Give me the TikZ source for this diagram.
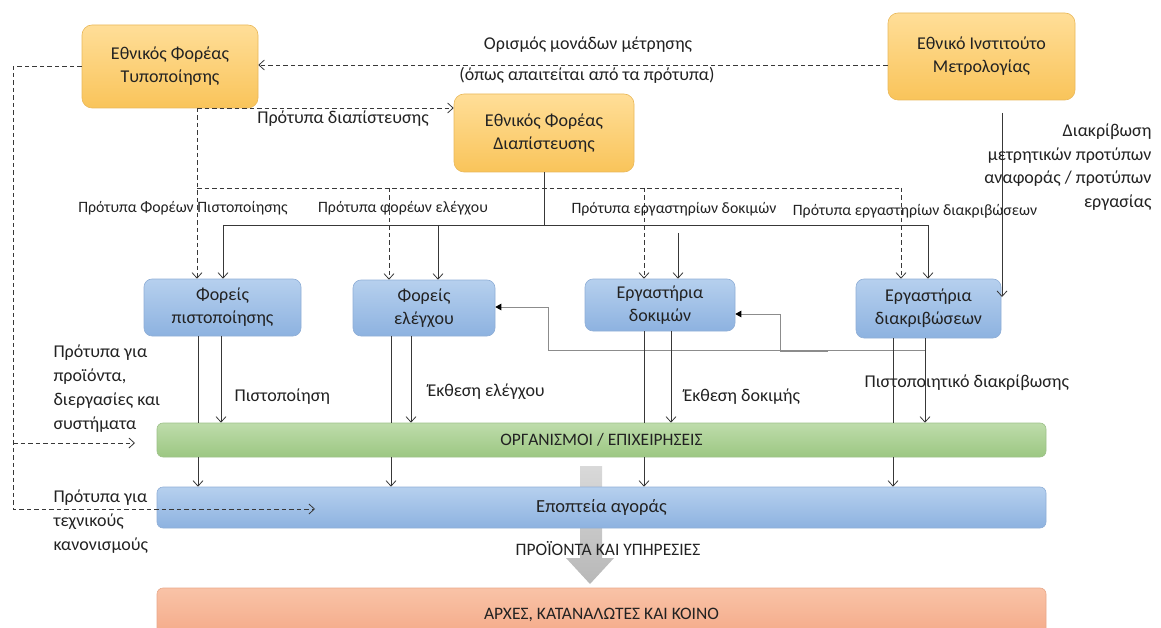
\documentclass[tikz,border=0pt]{standalone}
\usepackage{fontspec}
\setmainfont{Carlito}
\usetikzlibrary{arrows.meta}
\definecolor{orT}{HTML}{FFDE98}
\definecolor{orB}{HTML}{F9C45A}
\definecolor{orD}{HTML}{E9B85A}
\definecolor{blT}{HTML}{B6D0EE}
\definecolor{blB}{HTML}{8DB2E0}
\definecolor{blD}{HTML}{8FAED6}
\definecolor{grT}{HTML}{BEDCAB}
\definecolor{grB}{HTML}{9CC782}
\definecolor{grD}{HTML}{9DC189}
\definecolor{saT}{HTML}{F9C3A7}
\definecolor{saB}{HTML}{F4A886}
\definecolor{saD}{HTML}{E8A88A}
\definecolor{txt}{HTML}{222222}
\definecolor{ln}{HTML}{383838}
\begin{document}
\begin{tikzpicture}[x=1pt,y=-1pt,
  every node/.style={text=txt},
  bigfont/.style={font=\fontsize{18}{23}\selectfont},
  smallfont/.style={font=\fontsize{15.8}{18}\selectfont},
  orbox/.style={rectangle, rounded corners=10pt, draw=orD, line width=0.6pt,
    top color=orT, bottom color=orB, align=center, inner sep=0pt, bigfont},
  blbox/.style={rectangle, rounded corners=8pt, draw=blD, line width=0.6pt,
    top color=blT, bottom color=blB, align=center, inner sep=0pt, bigfont},
  barbox/.style={rectangle, rounded corners=6pt, line width=0.6pt,
    minimum width=889pt, inner sep=0pt, font=\fontsize{17.5}{20}\selectfont},
  plain/.style={draw=ln, line width=0.8pt},
  conn/.style={plain, -{Straight Barb[length=5.5pt,width=10pt]}},
  dline/.style={draw=ln, line width=0.8pt, dash pattern=on 4.5pt off 3pt},
  dconn/.style={dline, -{Straight Barb[length=5.5pt,width=10pt]}},
  fb/.style={draw=black!45, line width=1pt, -{Triangle[length=6pt,width=6.5pt,color=black]}},
  lbl/.style={bigfont},
  slbl/.style={smallfont}
]
\useasboundingbox (0,0) rectangle (1161,628);

% top boxes
\node[orbox, minimum width=176pt, minimum height=83pt] (eft) at (170,66.5) {Εθνικός Φορέας\\Τυποποίησης};
\node[orbox, minimum width=180pt, minimum height=78pt] (efd) at (544,133) {Εθνικός Φορέας\\Διαπίστευσης};
\node[orbox, minimum width=187pt, minimum height=87pt] (eim) at (981.5,56.5) {Εθνικό Ινστιτούτο\\Μετρολογίας};

% middle boxes
\node[blbox, minimum width=157pt, minimum height=57pt] (fp) at (222.5,307.5) {Φορείς\\πιστοποίησης};
\node[blbox, minimum width=142pt, minimum height=56pt] (fe) at (424,308) {Φορείς\\ελέγχου};
\node[blbox, minimum width=150pt, minimum height=52pt] (ed) at (660,305) {Εργαστήρια\\δοκιμών};
\node[blbox, minimum width=145pt, minimum height=59pt] (edk) at (928.5,308.5) {Εργαστήρια\\διακριβώσεων};

% big grey arrow (behind bars)
\shade[top color=black!15, bottom color=black!28]
  (580,466) -- (602,466) -- (602,558) -- (614,558) -- (590,584) -- (566,558) -- (580,558) -- cycle;

% bars
\node[barbox, draw=grD, top color=grT, bottom color=grB, minimum height=34pt] (org) at (601.5,440) {ΟΡΓΑΝΙΣΜΟΙ / ΕΠΙΧΕΙΡΗΣΕΙΣ};
\node[barbox, draw=blD, top color=blT, bottom color=blB, minimum height=41pt, font=\fontsize{18.5}{20}\selectfont] (epo) at (601.5,507.5) {Εποπτεία αγοράς};
\node[barbox, draw=saD, top color=saT, bottom color=saB, minimum height=52pt, text depth=0pt] (arx) at (601.5,614) {ΑΡΧΕΣ, ΚΑΤΑΝΑΛΩΤΕΣ ΚΑΙ ΚΟΙΝΟ};

\node[font=\fontsize{17.5}{20}\selectfont] (prod) at (608,549) {ΠΡΟΪΟΝΤΑ ΚΑΙ ΥΠΗΡΕΣΙΕΣ};

% dashed: ΕΙΜ -> ΕΦΤ
\draw[dconn] (eim.west |- 0,65) -- (eft.east |- 0,65);
\node[lbl] (l1) at (588,45) {Ορισμός μονάδων μέτρησης};
\node[lbl] (l2) at (587,75) {(όπως απαιτείται από τα πρότυπα)};

% dashed: ΕΦΤ left loop
\coordinate (lt) at (13,66.5);
\coordinate (lb) at (13,509);
\coordinate (lm) at (13,443);
\coordinate (tk) at (315,509);
\coordinate (pp) at (135,443);
\draw[dconn] (eft.west) -- (lt) -- (lb) -- (tk);
\draw[dconn] (lm) -- (pp);

% dashed: ΕΦΤ -> ΕΦΔ and standards
\coordinate (d0) at (197,108);
\coordinate (d1) at (197,188);
\coordinate (d2) at (389,188);
\coordinate (d3) at (644,188);
\coordinate (d4) at (901,188);
\draw[dconn] (d0) -- (d0 -| efd.west);
\draw[dconn] (d0) -- (d0 |- fp.north);
\draw[dline] (d1) -- (d4);
\draw[dconn] (d2) -- (d2 |- fe.north);
\draw[dconn] (d3) -- (d3 |- ed.north);
\draw[dconn] (d4) -- (d4 |- edk.north);
\node[lbl] (l3) at (343,119) {Πρότυπα διαπίστευσης};

% solid: ΕΦΔ -> bodies
\coordinate (s0) at (544,225);
\coordinate (s1) at (223,225);
\coordinate (s2) at (438,225);
\coordinate (s4) at (928,225);
\coordinate (s3) at (678,233);
\draw[plain] (efd.south) -- (s0);
\draw[plain] (s1) -- (s4);
\draw[conn] (s1) -- (s1 |- fp.north);
\draw[conn] (s2) -- (s2 |- fe.north);
\draw[conn] (s3) -- (s3 |- ed.north);
\draw[conn] (s4) -- (s4 |- edk.north);

\node[slbl] (l4) at (183,208) {Πρότυπα Φορέων Πιστοποίησης};
\node[slbl] (l5) at (403,208) {Πρότυπα φορέων ελέγχου};
\node[slbl] (l6) at (674,209) {Πρότυπα εργαστηρίων δοκιμών};
\node[slbl] (l7) at (915,211) {Πρότυπα εργαστηρίων διακριβώσεων};

% ΕΙΜ -> εργαστήρια διακριβώσεων
\coordinate (m0) at (1002,113);
\coordinate (m1) at (1002,297);
\draw[conn] (m0) -- (m1);
\node[lbl, align=right, anchor=east, font=\fontsize{18}{23.5}\selectfont] (l8) at (1155,167) {Διακρίβωση\\μετρητικών προτύπων\\αναφοράς / προτύπων\\εργασίας};

% feedback lines
\coordinate (f0) at (926,350);
\coordinate (f1) at (548,350);
\coordinate (f2) at (548,307);
\coordinate (g0) at (828,351);
\coordinate (g1) at (780,351);
\coordinate (g2) at (780,314);
\draw[fb] (f0) -- (f1) -- (f2) -- (f2 -| fe.east);
\draw[fb] (g0) -- (g1) -- (g2) -- (g2 -| ed.east);

% bodies -> organisations -> market surveillance
\foreach \b/\p/\a in {fp/198/221, fe/391/411, ed/644/671, edk/893/925}{
  \draw[plain] (\p,0 |- \b.south) -- (\p,0 |- org.north);
  \draw[conn] (\p,0 |- org.south) -- (\p,0 |- epo.north);
  \draw[conn] (\a,0 |- \b.south) -- (\a,0 |- org.north);
}
\node[lbl, anchor=west] (r1) at (231,397) {Πιστοποίηση};
\node[lbl, anchor=west] (r2) at (424,392) {Έκθεση ελέγχου};
\node[lbl, anchor=west] (r3) at (680,397) {Έκθεση δοκιμής};
\node[lbl, anchor=west] (r4) at (861,383) {Πιστοποιητικό διακρίβωσης};

\node[lbl, anchor=west, align=left, font=\fontsize{18}{24}\selectfont] (t1) at (50,389) {Πρότυπα για\\προϊόντα,\\διεργασίες και\\συστήματα};
\node[lbl, anchor=west, align=left, font=\fontsize{18}{24}\selectfont] (t2) at (50,522) {Πρότυπα για\\τεχνικούς\\κανονισμούς};

\end{tikzpicture}
\end{document}
